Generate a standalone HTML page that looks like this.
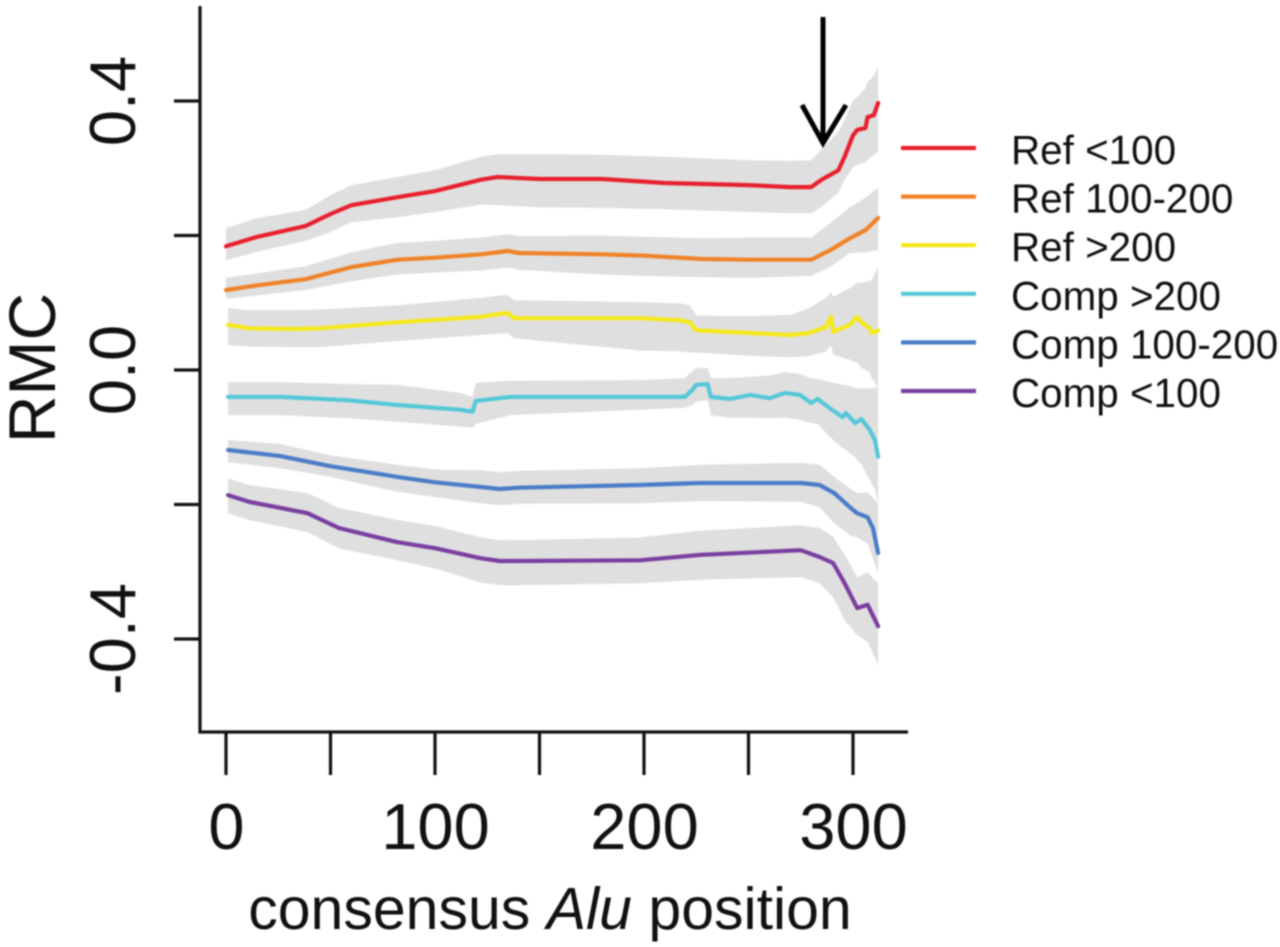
<!DOCTYPE html>
<html lang="en">
<head>
<meta charset="utf-8">
<title>RMC by consensus Alu position</title>
<style>
html,body{margin:0;padding:0;background:#fff;width:1280px;height:947px;overflow:hidden}
svg{display:block;filter:blur(0.9px)}
text{font-family:"Liberation Sans",sans-serif;fill:#111}
</style>
</head>
<body>
<svg id="chart" xmlns="http://www.w3.org/2000/svg" width="1280" height="947" viewBox="0 0 1280 947">
  <g id="bands"></g>
  <g id="lines"></g>
  <g id="axes"></g>
  <g id="legend"></g>
  <g fill="none" stroke="#000" stroke-width="5">
    <line x1="823" y1="17" x2="823" y2="143"/>
    <polyline points="802,105 823,143 846,105"/>
  </g>
  <text transform="translate(55,368) rotate(-90)" text-anchor="middle" font-size="66">RMC</text>
  <text x="550" y="929" text-anchor="middle" font-size="59">consensus <tspan font-style="italic">Alu</tspan> position</text>
</svg>
<script>
// Axis ticks
const xTicks = [0, 50, 100, 150, 200, 250, 300];
const xTickLabels = [0, 100, 200, 300];
const yTicks = [0.4, 0.2, 0, -0.2, -0.4];
const yTickLabels = [0.4, 0, -0.4];

// Legend names
const seriesNames = ['Ref <100', 'Ref 100-200', 'Ref >200', 'Comp >200', 'Comp 100-200', 'Comp <100'];

// Mean RMC per consensus position; band widths in thousandths of RMC
const refLowPos = [0,15,38,50,60,82,100,122,130,150,180,210,250,270,280,285,293,296,300,302,306,307,310,312];
const refLowMean = [.184,.198,.214,.232,.245,.257,.266,.283,.287,.284,.284,.278,.275,.272,.272,.283,.297,.317,.349,.357,.360,.376,.379,.397];
const refLowUp = [27,28,24,28,30,30,31,34,34,37,36,39,37,39,40,45,57,55,52,49,59,52,59,54];
const refLowDown = [21,22,22,27,25,30,31,37,42,42,43,39,40,39,39,40,33,34,48,52,51,64,59,73];

const refMidPos = [0,15,38,60,82,100,122,135,140,180,200,228,250,280,289,298.5,306,312];
const refMidMean = [.119,.126,.135,.153,.164,.167,.172,.177,.174,.172,.170,.165,.164,.164,.178,.196,.208,.226];
const refMidUp = [18,18,19,22,25,25,25,25,25,28,28,31,33,33,40,46,48,45];
const refMidDown = [13,15,16,21,22,22,24,25,25,30,30,27,27,24,25,22,33,48];

const refHighPos = [1,11,31,45,82,121.5,134.5,138,198,217,222,225,251,270,279,287,289.5,290.5,298.5,302,304,308,309,312];
const refHighMean = [.067,.062,.061,.062,.071,.079,.085,.077,.077,.074,.071,.059,.055,.052,.055,.064,.079,.057,.067,.079,.071,.062,.055,.059];
const refHighUp = [25,27,28,28,25,28,27,27,24,25,25,22,25,30,37,43,37,52,55,51,59,70,79,94];
const refHighDown = [30,27,27,28,28,27,30,30,48,46,45,33,34,33,34,37,42,34,52,68,68,65,67,85];

const compHighPos = [1,26,59,82,112,118,119.5,136,198,219.5,223,225,230.5,232,241,251,260,267.5,274.6,280,283,289,295,296.6,301,304,308,310.5,312];
const compHighMean = [-.040,-.040,-.045,-.052,-.059,-.062,-.046,-.040,-.040,-.040,-.030,-.022,-.021,-.040,-.043,-.037,-.042,-.034,-.037,-.049,-.043,-.057,-.070,-.064,-.079,-.073,-.089,-.104,-.129];
const compHighUp = [22,22,24,30,25,22,27,24,25,28,28,25,24,28,31,27,34,31,31,37,30,39,48,42,52,46,62,77,104];
const compHighDown = [27,27,27,25,25,24,34,27,19,16,22,25,24,27,28,34,30,37,37,30,37,43,46,55,51,68,74,74,68];

const compMidPos = [1,26,50,82,100,122,131,140,198,227,275,284,291,298.5,302,307,309.5,312];
const compMidMean = [-.119,-.128,-.143,-.159,-.167,-.174,-.177,-.175,-.171,-.168,-.168,-.171,-.183,-.204,-.213,-.219,-.235,-.272];
const compMidUp = [15,18,16,18,19,25,25,25,25,27,30,30,24,28,30,37,45,74];
const compMidDown = [18,18,16,22,22,24,24,24,27,27,28,33,45,42,36,39,45,30];

const compLowPos = [1,11,39,54,82,100,122,131,140,198,227,275,284,290.5,296,302,307,312];
const compLowMean = [-.186,-.196,-.213,-.235,-.256,-.265,-.280,-.284,-.284,-.283,-.275,-.268,-.278,-.287,-.317,-.354,-.349,-.381];
const compLowUp = [25,25,30,30,33,33,31,31,31,34,36,37,43,39,42,46,48,64];
const compLowDown = [27,27,28,30,27,30,36,36,36,34,37,40,39,51,55,40,55,58];

const seriesColors = ['#e8202e', '#f08228', '#f5e81c', '#55c8d8', '#4a7cc8', '#7a3fa0'];
const seriesPos = [refLowPos, refMidPos, refHighPos, compHighPos, compMidPos, compLowPos];
const seriesMean = [refLowMean, refMidMean, refHighMean, compHighMean, compMidMean, compLowMean];
const seriesUp = [refLowUp, refMidUp, refHighUp, compHighUp, compMidUp, compLowUp];
const seriesDown = [refLowDown, refMidDown, refHighDown, compHighDown, compMidDown, compLowDown];

const NS = 'http://www.w3.org/2000/svg';
function xScale(v) { return 226 + v * 2.09; }
function yScale(v) { return 370 - v * 672.5; }
function make(tag, parent, attrs) {
  const el = document.createElementNS(NS, tag);
  for (const k in attrs) el.setAttribute(k, attrs[k]);
  parent.appendChild(el);
  return el;
}

const bandsG = document.getElementById('bands');
const linesG = document.getElementById('lines');
const axesG = document.getElementById('axes');
const legendG = document.getElementById('legend');

seriesNames.forEach(function (name, s) {
  const pos = seriesPos[s], mean = seriesMean[s], up = seriesUp[s], down = seriesDown[s];
  const upper = pos.map(function (p, i) { return xScale(p).toFixed(1) + ',' + yScale(mean[i] + up[i] / 1000).toFixed(1); });
  const lower = pos.map(function (p, i) { return xScale(p).toFixed(1) + ',' + yScale(mean[i] - down[i] / 1000).toFixed(1); }).reverse();
  const band = make('polygon', bandsG, { points: upper.concat(lower).join(' '), fill: '#dfdfdf' });
  
  

  const pts = pos.map(function (p, i) { return xScale(p).toFixed(1) + ',' + yScale(mean[i]).toFixed(1); });
  const line = make('polyline', linesG, { points: pts.join(' '), fill: 'none', stroke: seriesColors[s], 'stroke-width': 4.2, 'stroke-linejoin': 'round', 'stroke-linecap': 'round' });
  
  

  const rowY = 148 + s * 48.6;
  const swatch = make('line', legendG, { x1: 901, x2: 976, y1: rowY, y2: rowY, stroke: seriesColors[s], 'stroke-width': 4.2 });
  
  
  const label = make('text', legendG, { x: 1011, y: rowY + 16, 'font-size': 40.4 });
  label.textContent = name;
  
  
});

const axisStyle = { stroke: '#111', 'stroke-width': 3.2 };
const yAxisLine = make('line', axesG, Object.assign({ x1: 200, x2: 200, y1: 6, y2: 733.5 }, axisStyle));


const xAxisLine = make('line', axesG, Object.assign({ x1: 198.5, x2: 908, y1: 732, y2: 732 }, axisStyle));



xTicks.forEach(function (t) {
  const tick = make('line', axesG, Object.assign({ x1: xScale(t), x2: xScale(t), y1: 732, y2: 775 }, axisStyle));
  
  
});
xTickLabels.forEach(function (t) {
  const label = make('text', axesG, { x: xScale(t) + 0.5, y: 849, 'text-anchor': 'middle', 'font-size': 65 });
  label.textContent = String(t);
  
  
});
yTicks.forEach(function (t) {
  const tick = make('line', axesG, Object.assign({ x1: 174, x2: 200, y1: yScale(t), y2: yScale(t) }, axisStyle));
  
  
});
yTickLabels.forEach(function (t) {
  const label = make('text', axesG, { transform: 'translate(135,' + yScale(t) + ') rotate(-90)', 'text-anchor': 'middle', 'font-size': 65 });
  label.textContent = t.toFixed(1);
  
  
});
</script>
</body>
</html>
